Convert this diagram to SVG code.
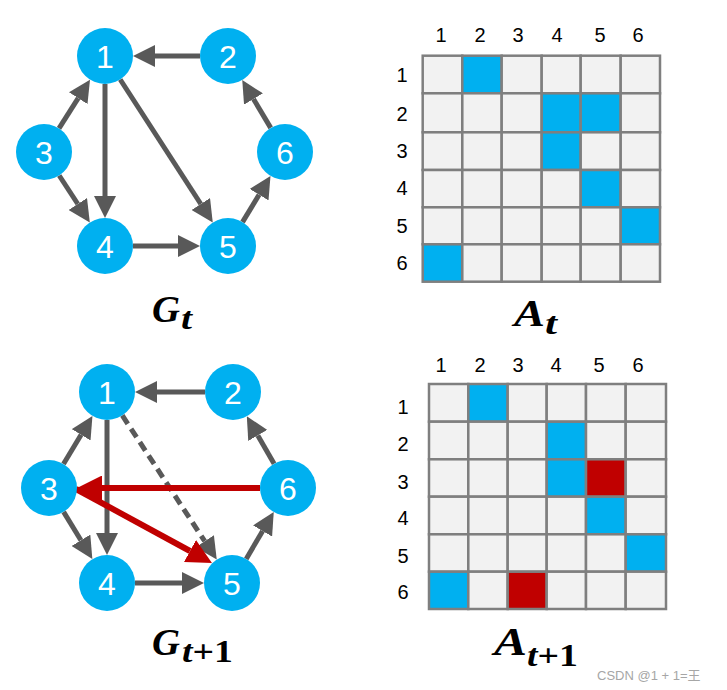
<svg xmlns="http://www.w3.org/2000/svg" width="727" height="690" viewBox="0 0 727 690">
<style>
.e{stroke:#595959;stroke-width:5;fill:none}
.r{stroke:#c00000;stroke-width:6;fill:none}
.d{stroke-dasharray:10 6}
.n{fill:#00b0f0}
.nl{font-family:"Liberation Sans",Arial,sans-serif;font-size:32px;fill:#fff;text-anchor:middle}
.lb{font-family:"Liberation Sans",Arial,sans-serif;font-size:20px;fill:#000;text-anchor:middle}
.c{fill:#f2f2f2;stroke:#7f7f7f;stroke-width:2.5}
.b{fill:#00b0f0;stroke:#7f7f7f;stroke-width:2.5}
.rc{fill:#c00000;stroke:#7f7f7f;stroke-width:2.5}
.m{font-family:"Liberation Serif","DejaVu Serif",serif;font-weight:bold;font-style:italic;fill:#000}
.up{font-style:normal}
</style>
<defs>
<marker id="ag" markerUnits="userSpaceOnUse" markerWidth="22" markerHeight="22" refX="0" refY="11" orient="auto"><path d="M0,0 L22,11 L0,22 z" fill="#595959"/></marker>
<marker id="ar" markerUnits="userSpaceOnUse" markerWidth="25" markerHeight="25" refX="0" refY="12.5" orient="auto"><path d="M0,0 L25,12.5 L0,25 z" fill="#c00000"/></marker>
</defs>
<rect width="727" height="690" fill="#fff"/>

<g id="connectors">
<!-- top graph -->
<line class="e" x1="200" y1="56" x2="155" y2="56" marker-end="url(#ag)"/>
<line class="e" x1="59" y1="128.4" x2="78.2" y2="98.2" marker-end="url(#ag)"/>
<line class="e" x1="105" y1="84" x2="105" y2="196" marker-end="url(#ag)"/>
<line class="e" x1="120.2" y1="79.5" x2="200.8" y2="204" marker-end="url(#ag)"/>
<line class="e" x1="59.2" y1="175.5" x2="77.8" y2="204" marker-end="url(#ag)"/>
<line class="e" x1="133" y1="246" x2="178" y2="246" marker-end="url(#ag)"/>
<line class="e" x1="242.5" y1="222.1" x2="259.1" y2="194.7" marker-end="url(#ag)"/>
<line class="e" x1="270.7" y1="127.9" x2="253.5" y2="99" marker-end="url(#ag)"/>
<!-- bottom graph -->
<line class="e" x1="205" y1="392" x2="157" y2="392" marker-end="url(#ag)"/>
<line class="e" x1="63.5" y1="464" x2="81.1" y2="434.8" marker-end="url(#ag)"/>
<line class="e" x1="107" y1="420" x2="107" y2="533" marker-end="url(#ag)"/>
<line class="e d" x1="122.3" y1="415.4" x2="204.7" y2="541.2" marker-end="url(#ag)"/>
<line class="e" x1="63.6" y1="511.9" x2="80.9" y2="540.3" marker-end="url(#ag)"/>
<line class="e" x1="135" y1="583" x2="182" y2="583" marker-end="url(#ag)"/>
<line class="e" x1="246.2" y1="558.9" x2="262.6" y2="531" marker-end="url(#ag)"/>
<line class="e" x1="274.1" y1="463.7" x2="257.8" y2="435.4" marker-end="url(#ag)"/>
<line class="r" x1="260" y1="488" x2="102" y2="488" marker-end="url(#ar)"/>
<line class="r" x1="76" y1="489" x2="190" y2="551" marker-end="url(#ar)"/>
</g>

<g id="top-n1"><circle class="n" cx="105" cy="56" r="28"/><text class="nl" x="105" y="67.5">1</text></g>
<g id="top-n2"><circle class="n" cx="228" cy="56" r="28"/><text class="nl" x="228" y="67.5">2</text></g>
<g id="top-n3"><circle class="n" cx="44" cy="152" r="28"/><text class="nl" x="44" y="163.5">3</text></g>
<g id="top-n6"><circle class="n" cx="285" cy="152" r="28"/><text class="nl" x="285" y="163.5">6</text></g>
<g id="top-n4"><circle class="n" cx="105" cy="246" r="28"/><text class="nl" x="105" y="257.5">4</text></g>
<g id="top-n5"><circle class="n" cx="228" cy="246" r="28"/><text class="nl" x="228" y="257.5">5</text></g>

<g id="bot-n1"><circle class="n" cx="107" cy="392" r="28"/><text class="nl" x="107" y="403.5">1</text></g>
<g id="bot-n2"><circle class="n" cx="233" cy="392" r="28"/><text class="nl" x="233" y="403.5">2</text></g>
<g id="bot-n3"><circle class="n" cx="49" cy="488" r="28"/><text class="nl" x="49" y="499.5">3</text></g>
<g id="bot-n6"><circle class="n" cx="288" cy="488" r="28"/><text class="nl" x="288" y="499.5">6</text></g>
<g id="bot-n4"><circle class="n" cx="107" cy="583" r="28"/><text class="nl" x="107" y="594.5">4</text></g>
<g id="bot-n5"><circle class="n" cx="232" cy="583" r="28"/><text class="nl" x="232" y="594.5">5</text></g>

<g id="label-Gt"><text class="m" x="152" y="322" font-size="38" textLength="28" lengthAdjust="spacingAndGlyphs">G</text><text class="m" x="181" y="329" font-size="32" textLength="11" lengthAdjust="spacingAndGlyphs">t</text></g>
<g id="label-Gt1"><text class="m" x="152" y="655" font-size="38" textLength="28" lengthAdjust="spacingAndGlyphs">G</text><text class="m" x="182" y="662" font-size="31" textLength="51" lengthAdjust="spacingAndGlyphs">t<tspan class="up">+1</tspan></text></g>

<g id="matrix-At">
<g class="lb">
<text x="441" y="42">1</text><text x="480" y="42">2</text><text x="518" y="42">3</text><text x="557" y="42">4</text><text x="600" y="42">5</text><text x="638" y="42">6</text>
<text x="402" y="82">1</text><text x="402" y="121">2</text><text x="402" y="158">3</text><text x="402" y="195">4</text><text x="402" y="233">5</text><text x="402" y="270">6</text>
</g>
<g>
<rect class="c" x="422.7" y="55.7" width="39.6" height="37.6"/><rect class="b" x="462.3" y="55.7" width="39.4" height="37.6"/><rect class="c" x="501.7" y="55.7" width="40" height="37.6"/><rect class="c" x="541.7" y="55.7" width="39" height="37.6"/><rect class="c" x="580.7" y="55.7" width="40" height="37.6"/><rect class="c" x="620.7" y="55.7" width="39.3" height="37.6"/>
<rect class="c" x="422.7" y="93.3" width="39.6" height="39"/><rect class="c" x="462.3" y="93.3" width="39.4" height="39"/><rect class="c" x="501.7" y="93.3" width="40" height="39"/><rect class="b" x="541.7" y="93.3" width="39" height="39"/><rect class="b" x="580.7" y="93.3" width="40" height="39"/><rect class="c" x="620.7" y="93.3" width="39.3" height="39"/>
<rect class="c" x="422.7" y="132.3" width="39.6" height="37.7"/><rect class="c" x="462.3" y="132.3" width="39.4" height="37.7"/><rect class="c" x="501.7" y="132.3" width="40" height="37.7"/><rect class="b" x="541.7" y="132.3" width="39" height="37.7"/><rect class="c" x="580.7" y="132.3" width="40" height="37.7"/><rect class="c" x="620.7" y="132.3" width="39.3" height="37.7"/>
<rect class="c" x="422.7" y="170" width="39.6" height="37.3"/><rect class="c" x="462.3" y="170" width="39.4" height="37.3"/><rect class="c" x="501.7" y="170" width="40" height="37.3"/><rect class="c" x="541.7" y="170" width="39" height="37.3"/><rect class="b" x="580.7" y="170" width="40" height="37.3"/><rect class="c" x="620.7" y="170" width="39.3" height="37.3"/>
<rect class="c" x="422.7" y="207.3" width="39.6" height="37"/><rect class="c" x="462.3" y="207.3" width="39.4" height="37"/><rect class="c" x="501.7" y="207.3" width="40" height="37"/><rect class="c" x="541.7" y="207.3" width="39" height="37"/><rect class="c" x="580.7" y="207.3" width="40" height="37"/><rect class="b" x="620.7" y="207.3" width="39.3" height="37"/>
<rect class="b" x="422.7" y="244.3" width="39.6" height="37.4"/><rect class="c" x="462.3" y="244.3" width="39.4" height="37.4"/><rect class="c" x="501.7" y="244.3" width="40" height="37.4"/><rect class="c" x="541.7" y="244.3" width="39" height="37.4"/><rect class="c" x="580.7" y="244.3" width="40" height="37.4"/><rect class="c" x="620.7" y="244.3" width="39.3" height="37.4"/>
</g>
</g>
<g id="label-At"><text class="m" x="514" y="326" font-size="38" textLength="31" lengthAdjust="spacingAndGlyphs">A</text><text class="m" x="545" y="334" font-size="32" textLength="12" lengthAdjust="spacingAndGlyphs">t</text></g>

<g id="matrix-At1">
<g class="lb">
<text x="441" y="372">1</text><text x="480" y="372">2</text><text x="518" y="372">3</text><text x="556" y="372">4</text><text x="599" y="372">5</text><text x="638" y="372">6</text>
<text x="403" y="414">1</text><text x="403" y="451">2</text><text x="403" y="489">3</text><text x="403" y="525">4</text><text x="403" y="563">5</text><text x="403" y="599">6</text>
</g>
<g>
<rect class="c" x="429" y="384" width="39.3" height="37.7"/><rect class="b" x="468.3" y="384" width="39.4" height="37.7"/><rect class="c" x="507.7" y="384" width="39" height="37.7"/><rect class="c" x="546.7" y="384" width="39.3" height="37.7"/><rect class="c" x="586" y="384" width="39.7" height="37.7"/><rect class="c" x="625.7" y="384" width="40.3" height="37.7"/>
<rect class="c" x="429" y="421.7" width="39.3" height="37.6"/><rect class="c" x="468.3" y="421.7" width="39.4" height="37.6"/><rect class="c" x="507.7" y="421.7" width="39" height="37.6"/><rect class="b" x="546.7" y="421.7" width="39.3" height="37.6"/><rect class="c" x="586" y="421.7" width="39.7" height="37.6"/><rect class="c" x="625.7" y="421.7" width="40.3" height="37.6"/>
<rect class="c" x="429" y="459.3" width="39.3" height="37.4"/><rect class="c" x="468.3" y="459.3" width="39.4" height="37.4"/><rect class="c" x="507.7" y="459.3" width="39" height="37.4"/><rect class="b" x="546.7" y="459.3" width="39.3" height="37.4"/><rect class="rc" x="586" y="459.3" width="39.7" height="37.4"/><rect class="c" x="625.7" y="459.3" width="40.3" height="37.4"/>
<rect class="c" x="429" y="496.7" width="39.3" height="37.6"/><rect class="c" x="468.3" y="496.7" width="39.4" height="37.6"/><rect class="c" x="507.7" y="496.7" width="39" height="37.6"/><rect class="c" x="546.7" y="496.7" width="39.3" height="37.6"/><rect class="b" x="586" y="496.7" width="39.7" height="37.6"/><rect class="c" x="625.7" y="496.7" width="40.3" height="37.6"/>
<rect class="c" x="429" y="534.3" width="39.3" height="37.4"/><rect class="c" x="468.3" y="534.3" width="39.4" height="37.4"/><rect class="c" x="507.7" y="534.3" width="39" height="37.4"/><rect class="c" x="546.7" y="534.3" width="39.3" height="37.4"/><rect class="c" x="586" y="534.3" width="39.7" height="37.4"/><rect class="b" x="625.7" y="534.3" width="40.3" height="37.4"/>
<rect class="b" x="429" y="571.7" width="39.3" height="37.3"/><rect class="c" x="468.3" y="571.7" width="39.4" height="37.3"/><rect class="rc" x="507.7" y="571.7" width="39" height="37.3"/><rect class="c" x="546.7" y="571.7" width="39.3" height="37.3"/><rect class="c" x="586" y="571.7" width="39.7" height="37.3"/><rect class="c" x="625.7" y="571.7" width="40.3" height="37.3"/>
</g>
</g>
<g id="label-At1"><text class="m" x="494" y="655" font-size="40" textLength="33" lengthAdjust="spacingAndGlyphs">A</text><text class="m" x="527" y="666" font-size="31" textLength="51" lengthAdjust="spacingAndGlyphs">t<tspan class="up">+1</tspan></text></g>

<text x="597" y="680" font-family="'Liberation Sans','Noto Sans CJK SC',sans-serif" font-size="13" fill="#a6a6a6">CSDN @1 + 1=王</text>
</svg>
